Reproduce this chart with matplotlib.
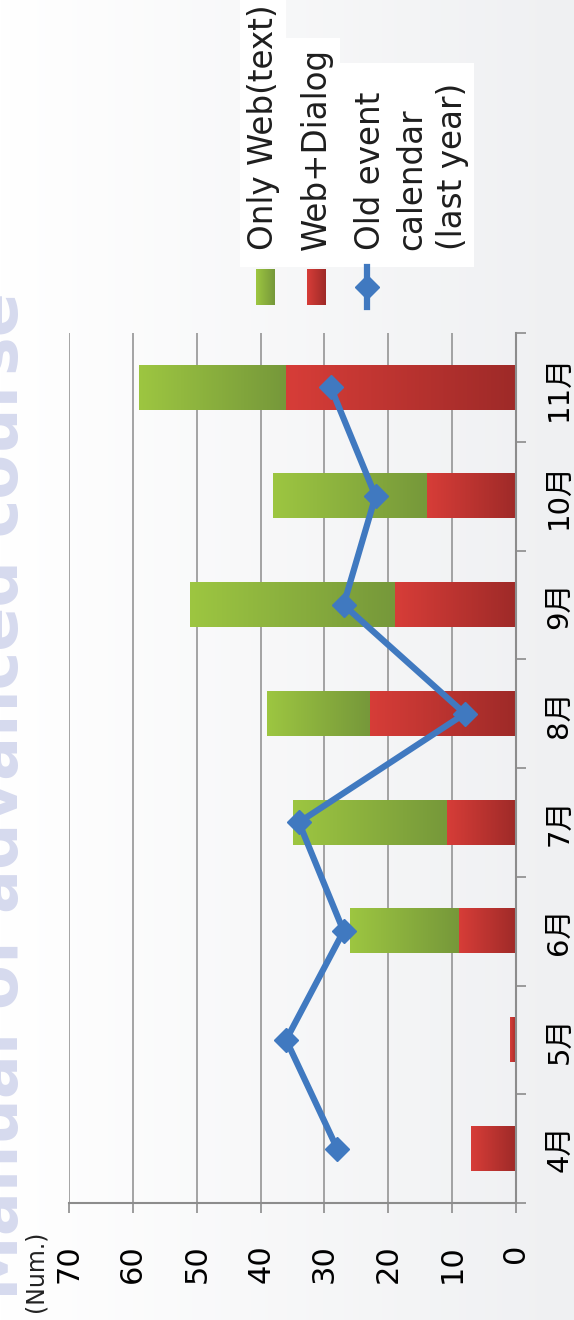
import numpy as np
import matplotlib.pyplot as plt
from matplotlib.colors import LinearSegmentedColormap
from matplotlib.patches import Rectangle
from matplotlib.lines import Line2D

months = ['4月', '5月', '6月', '7月', '8月', '9月', '10月', '11月']
web_dialog = [7, 1, 9, 11, 23, 19, 14, 36]
web_only = [0, 0, 17, 24, 16, 32, 24, 23]
old_calendar = [28, 36, 27, 34, 8, 27, 22, 29]

plt.rcParams['font.family'] = ['DejaVu Sans', 'Noto Sans CJK JP']

W, H = 574, 1320


def fx(px):
    return px / W


def fy(py):
    return 1 - py / H


green_cmap = LinearSegmentedColormap.from_list('green', ['#9dc641', '#76983a'])
red_cmap = LinearSegmentedColormap.from_list('red', ['#d73d38', '#9e2a28'])
line_color = '#4079c0'
grid_color = '#8c8c8c'

fig = plt.figure(figsize=(W / 100, H / 100), dpi=100)

# background: white to light grey
bg = fig.add_axes([0, 0, 1, 1], zorder=-10)
bg.imshow(np.linspace(0, 1, 256).reshape(1, -1), aspect='auto', extent=[0, 1, 0, 1],
          cmap=LinearSegmentedColormap.from_list('bg', ['#ffffff', '#eff0f2']))
bg.axis('off')

# faded watermark, mostly cut off by the left edge
fig.text(fx(18), fy(1300), 'Manual of advanced course', rotation=90, rotation_mode='anchor',
         ha='left', va='baseline', fontsize=47, fontweight='bold', color='#d6daee', zorder=1)

ax = fig.add_axes([fx(69), fy(1203), (516 - 69) / W, (1203 - 333) / H])
ax.patch.set_alpha(0)

y = np.arange(len(months))
bar_h = 0.41


def gradient_bars(bars, cmap):
    for b in bars:
        x0, w = b.get_x(), b.get_width()
        if w <= 0:
            continue
        ax.imshow(np.linspace(0, 1, 256).reshape(1, -1), cmap=cmap, aspect='auto',
                  extent=[x0 + w, x0, b.get_y(), b.get_y() + b.get_height()],
                  interpolation='bilinear', zorder=2)


red_bars = ax.barh(y, web_dialog, height=bar_h, color='none')
green_bars = ax.barh(y, web_only, left=web_dialog, height=bar_h, color='none')
gradient_bars(red_bars, red_cmap)
gradient_bars(green_bars, green_cmap)

ax.plot(old_calendar, y, color=line_color, lw=4.5, marker='D', ms=12, zorder=5)

ax.set_xlim(70, 0)
ax.set_ylim(-0.5, 7.5)

ax.spines['left'].set_visible(False)
ax.spines['top'].set_visible(False)
for s in ['bottom', 'right']:
    ax.spines[s].set_color(grid_color)
    ax.spines[s].set_linewidth(1.5)

ax.set_xticks(range(0, 80, 10))
ax.tick_params(axis='x', direction='out', length=7.5, width=1.2, color=grid_color,
               labelsize=22, labelrotation=90, pad=22)
ax.xaxis.grid(True, color=grid_color, lw=1.1)
ax.set_axisbelow(True)

ax.yaxis.tick_right()
ax.set_yticks(np.arange(-0.5, 8, 1))
ax.set_yticklabels([])
ax.set_yticks(y, minor=True)
ax.set_yticklabels(months, minor=True)
ax.tick_params(axis='y', which='major', direction='out', length=7.5, width=1.2,
               color=grid_color, right=True, left=False)
ax.tick_params(axis='y', which='minor', length=0, right=True, left=False,
               labelright=True, labelleft=False, labelsize=21, pad=21)
for lbl in ax.get_yticklabels(minor=True):
    lbl.set_rotation(90)
    lbl.set_va('center')

fig.text(fx(42), fy(1312), '(Num.)', rotation=90, rotation_mode='anchor',
         ha='left', va='baseline', fontsize=17, color='#222222', zorder=4)

# legend, drawn rotated like the rest of the chart
for x0, x1, y0 in [(240, 286, 0), (286, 340, 38), (340, 474, 63)]:
    fig.add_artist(Rectangle((fx(x0), fy(267)), (x1 - x0) / W, (267 - y0) / H,
                             transform=fig.transFigure, facecolor='white', edgecolor='none'))

for kx, cmap in [(256, green_cmap), (307, red_cmap)]:
    kax = fig.add_axes([fx(kx), fy(305), 19 / W, 36 / H])
    kax.imshow(np.linspace(0, 1, 64).reshape(1, -1), cmap=cmap, aspect='auto')
    kax.axis('off')

fig.add_artist(Line2D([fx(367), fx(367)], [fy(267), fy(307)], transform=fig.transFigure,
                      color=line_color, lw=4.5))
fig.add_artist(Line2D([fx(367)], [fy(287)], transform=fig.transFigure, color=line_color,
                      marker='D', ms=12))

legend_lines = [(273, 'Only Web(text)'), (326, 'Web+Dialog'), (380, 'Old event'),
                (421, 'calendar'), (462, '(last year)')]
for bx, txt in legend_lines:
    fig.text(fx(bx), fy(250), txt, rotation=90, rotation_mode='anchor',
             ha='left', va='baseline', fontsize=23.5, color='#1e1e1e')

fig.savefig('out.png', dpi=100)
